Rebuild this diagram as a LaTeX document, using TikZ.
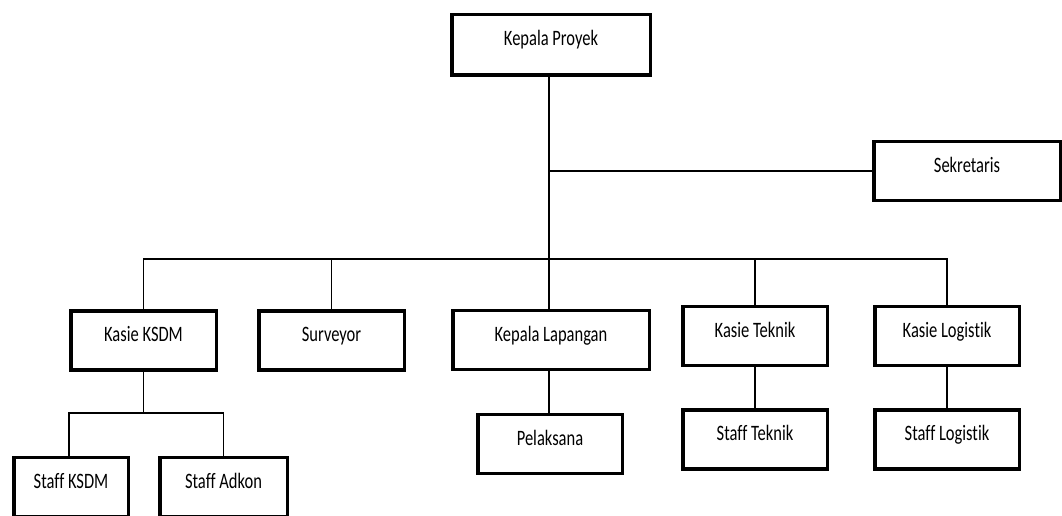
\documentclass[tikz,border=0pt]{standalone}
\usepackage{fontspec}
\setmainfont{Carlito}[FakeStretch=0.75, RawFeature={-liga}]
\begin{document}
\begin{tikzpicture}[
  x=1pt, y=-1pt,
  box/.style={draw, line width=3.5pt, minimum height=59pt, text height=14pt, text depth=12pt, inner sep=0pt, font=\fontsize{22}{26}\selectfont},
  link/.style={line width=1.3pt}
]
\useasboundingbox (0,0) rectangle (1062,516);
% top
\node[box, minimum width=198.5pt, minimum height=60.5pt] (kp) at (551,45) {Kepala Proyek};
\node[box, minimum width=186.5pt] (sek) at (967,171) {Sekretaris};
% second row
\node[box, minimum width=145.5pt] (ksdm) at (143.5,340.5) {Kasie KSDM};
\node[box, minimum width=145.5pt] (sur) at (331.5,340.5) {Surveyor};
\node[box, minimum width=196.5pt] (kl) at (551,340) {Kepala Lapangan};
\node[box, minimum width=144.5pt] (kt) at (755,336) {Kasie Teknik};
\node[box, minimum width=144.5pt] (klog) at (947,336) {Kasie Logistik};
% third row
\node[box, minimum width=114.5pt] (skdm) at (71,487) {Staff KSDM};
\node[box, minimum width=127.5pt] (sadk) at (223.5,487) {Staff Adkon};
\node[box, minimum width=144.5pt] (pel) at (550,444) {Pelaksana};
\node[box, minimum width=144.5pt] (st) at (755,439.5) {Staff Teknik};
\node[box, minimum width=144.5pt] (slog) at (947,439.5) {Staff Logistik};
% connectors
\coordinate (bus) at (549,259);
\coordinate (sub) at (143.5,413);
\draw[link] (kp.south -| bus) -- (kl.north -| bus);
\draw[link] (sek.west -| bus) -- (sek.west);
\draw[link] (ksdm.north) |- (bus) -| (klog.north);
\draw[link] (sur.north) -- (sur.north |- bus);
\draw[link] (kt.north) -- (kt.north |- bus);
\draw[link] (ksdm.south) -- (sub);
\draw[link] (skdm.north -| 69,0) |- (sub) -| (sadk.north);
\draw[link] (kl.south -| bus) -- (pel.north -| bus);
\draw[link] (kt.south) -- (st.north);
\draw[link] (klog.south) -- (slog.north);
\end{tikzpicture}
\end{document}
